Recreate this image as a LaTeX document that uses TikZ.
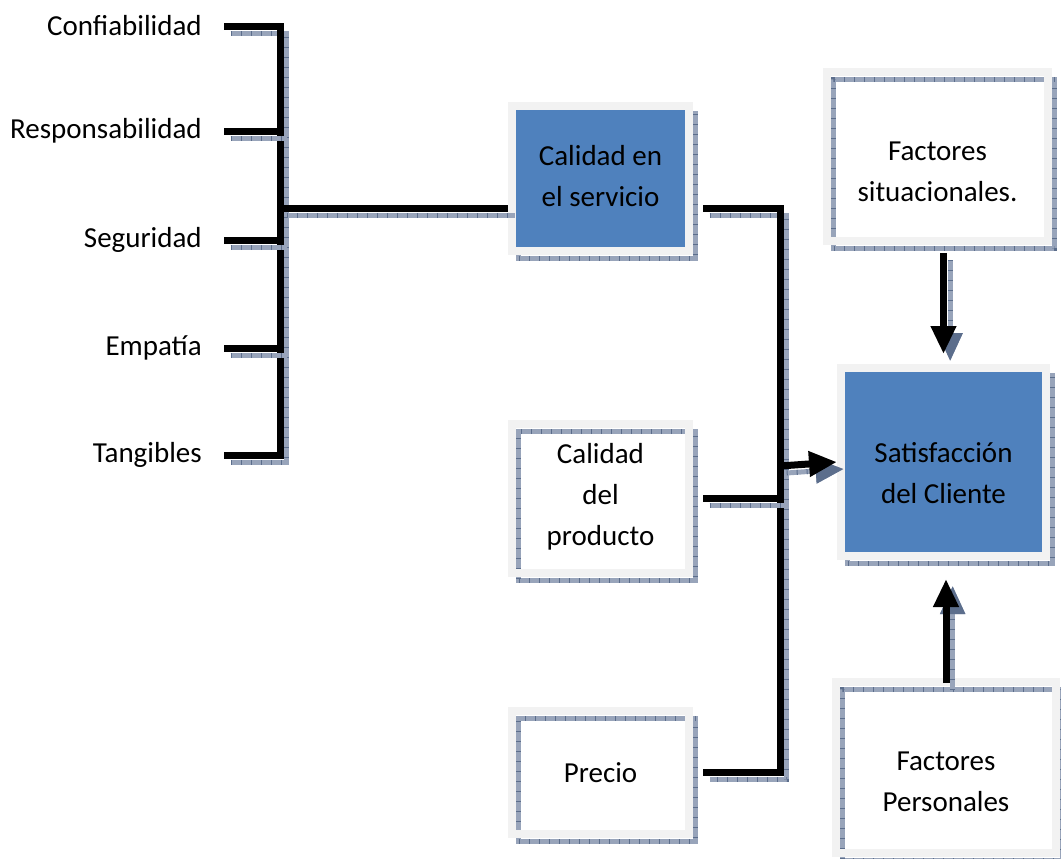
\documentclass[tikz,border=0pt]{standalone}
\usepackage{fontspec}
\setmainfont{Carlito}
\usepackage{tikz}
\usetikzlibrary{arrows.meta,calc}
\definecolor{bleu}{RGB}{79,129,189}
\definecolor{grisb}{RGB}{242,242,242}
\definecolor{ombrec}{RGB}{152,164,186}
\definecolor{ombref}{RGB}{92,110,140}
\tikzset{
  ombre/.style={preaction={draw=ombrec,fill=none,line width=3.75pt,transform canvas={shift={(5pt,-5.25pt)}}},
    preaction={draw=ombref,fill=none,line width=3.75pt,dash pattern=on 0.75pt off 6.75pt,transform canvas={shift={(5pt,-5.25pt)}}}},
  boite/.style={draw=grisb,line width=6pt,inner sep=0pt,ombre},
  texte/.style={align=center,inner sep=0pt,font=\fontsize{21.75pt}{30.75pt}\selectfont},
  trait/.style={line width=5.25pt,ombre},
  fleche/.style={trait,-{Triangle[length=21pt,width=18pt]}}
}
\begin{document}
\begin{tikzpicture}[x=0.75pt,y=-0.75pt]
\useasboundingbox (0,0) rectangle (1061,858);
% les boites
\node[boite,fill=bleu,minimum width=132.75pt,minimum height=108.75pt] (serv) at (600.5,178.5) {};
\node[boite,minimum width=132.75pt,minimum height=111.75pt] (prod) at (600.5,498.5) {};
\node[boite,minimum width=132.75pt,minimum height=92.25pt] (prix) at (600.5,772.5) {};
\node[boite,minimum width=165.75pt,minimum height=126.75pt] (situ) at (937.5,156.5) {};
\node[boite,fill=bleu,minimum width=153.75pt,minimum height=141pt] (satis) at (943.5,462) {};
\node[boite,minimum width=165pt,minimum height=128.25pt] (perso) at (946,767.5) {};
\node[texte] (serv-t) at ($(serv)+(0,-2.5)$) {Calidad en\\el servicio};
\node[texte] (prod-t) at ($(prod)+(0,-1.5)$) {Calidad\\del\\producto};
\node[texte] (prix-t) at (prix) {Precio};
\node[texte] (situ-t) at ($(situ)+(0,15.5)$) {Factores\\situacionales.};
\node[texte] (satis-t) at ($(satis)+(0,11)$) {Satisfacción\\del Cliente};
\node[texte] (perso-t) at ($(perso)+(0,14.5)$) {Factores\\Personales};
% les criteres
\node[texte,anchor=east] (conf) at (202,26) {Confiabilidad};
\node[texte,anchor=east] (resp) at (202,131) {Responsabilidad};
\node[texte,anchor=east] (segu) at (202,240) {Seguridad};
\node[texte,anchor=east] (empa) at (202,348) {Empatía};
\node[texte,anchor=east] (tang) at (202,455) {Tangibles};
\coordinate (barre) at (280,0);
\coordinate (nud) at (280,208);
\coordinate (jonc) at (780,466);
\draw[trait] ($(conf.east)+(22,0)$) -- (conf.east -| barre) -- (tang.east -| barre) -- ($(tang.east)+(22,0)$);
\foreach \c in {resp,segu,empa}
  \draw[trait] ($(\c.east)+(22,0)$) -- (\c.east -| barre);
\draw[trait] (nud) -- (nud -| serv.west);
% vers la satisfaction
\draw[trait] ($(serv.east)+(10,30)$) -| (jonc) |- ($(prix.east)+(10,0)$);
\draw[trait] ($(prod.east)+(10,0)$) -- (prod.east -| jonc);
\draw[fleche] (jonc) -- (satis.west);
\draw[fleche] ($(situ.south -| satis.north)+(0,8)$) -- ($(satis.north)+(0,-10)$);
\draw[fleche] ($(perso.north)+(0,5)$) -- ($(perso.north |- satis.south)+(0,19)$);
\end{tikzpicture}
\end{document}
